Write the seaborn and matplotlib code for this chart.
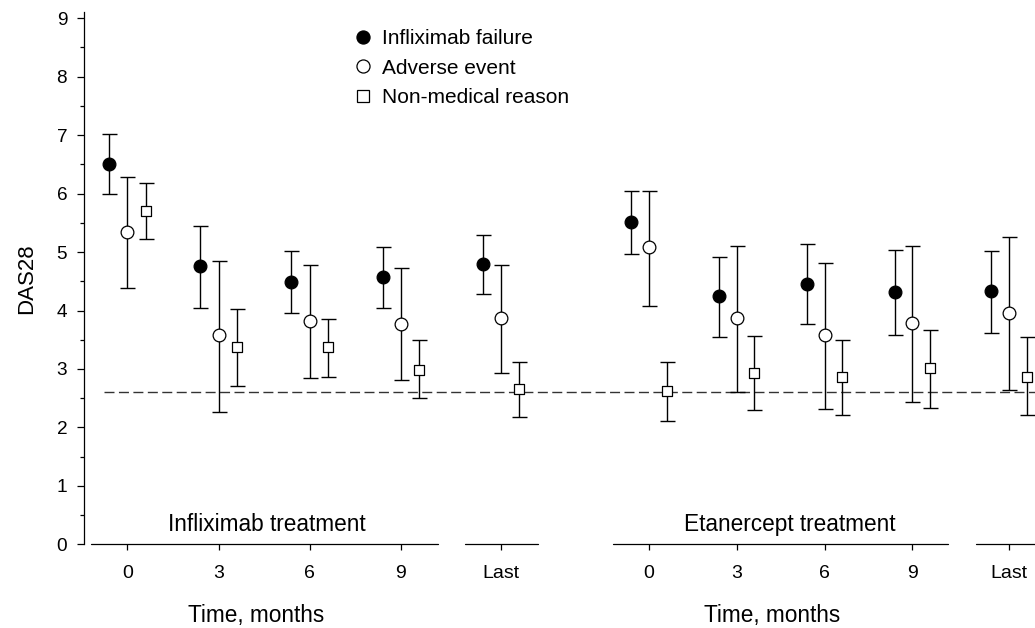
import numpy as np
import pandas as pd
import matplotlib
matplotlib.use("Agg")
import matplotlib.pyplot as plt
from matplotlib.lines import Line2D
import seaborn as sns

# ---------------- data ----------------
time_labels = ["0", "3", "6", "9", "Last"]
reasons = ["Infliximab failure", "Adverse event", "Non-medical reason"]
treatments = ["Infliximab treatment", "Etanercept treatment"]
threshold = 2.6

# Infliximab treatment
ifx_fail_mean = [6.51, 4.76, 4.49, 4.58, 4.80]
ifx_fail_lo = [5.99, 4.04, 3.96, 4.05, 4.28]
ifx_fail_hi = [7.02, 5.45, 5.01, 5.09, 5.29]
ifx_adv_mean = [5.35, 3.58, 3.82, 3.77, 3.87]
ifx_adv_lo = [4.39, 2.27, 2.85, 2.81, 2.93]
ifx_adv_hi = [6.29, 4.85, 4.77, 4.73, 4.78]
ifx_non_mean = [5.70, 3.38, 3.37, 2.99, 2.65]
ifx_non_lo = [5.22, 2.71, 2.87, 2.51, 2.17]
ifx_non_hi = [6.18, 4.03, 3.85, 3.49, 3.12]

# Etanercept treatment
eta_fail_mean = [5.51, 4.24, 4.46, 4.32, 4.33]
eta_fail_lo = [4.96, 3.54, 3.77, 3.58, 3.61]
eta_fail_hi = [6.05, 4.91, 5.14, 5.03, 5.02]
eta_adv_mean = [5.08, 3.87, 3.58, 3.78, 3.95]
eta_adv_lo = [4.08, 2.61, 2.31, 2.43, 2.64]
eta_adv_hi = [6.05, 5.11, 4.82, 5.10, 5.25]
eta_non_mean = [2.62, 2.93, 2.86, 3.01, 2.87]
eta_non_lo = [2.11, 2.29, 2.22, 2.33, 2.21]
eta_non_hi = [3.12, 3.56, 3.50, 3.67, 3.54]

series = {
    ("Infliximab treatment", "Infliximab failure"): (ifx_fail_mean, ifx_fail_lo, ifx_fail_hi),
    ("Infliximab treatment", "Adverse event"): (ifx_adv_mean, ifx_adv_lo, ifx_adv_hi),
    ("Infliximab treatment", "Non-medical reason"): (ifx_non_mean, ifx_non_lo, ifx_non_hi),
    ("Etanercept treatment", "Infliximab failure"): (eta_fail_mean, eta_fail_lo, eta_fail_hi),
    ("Etanercept treatment", "Adverse event"): (eta_adv_mean, eta_adv_lo, eta_adv_hi),
    ("Etanercept treatment", "Non-medical reason"): (eta_non_mean, eta_non_lo, eta_non_hi),
}

# ---------------- layout / style ----------------
time_pos = [0, 1, 2, 3, 4.1]
reason_offset = {"Infliximab failure": -0.2, "Adverse event": 0.0, "Non-medical reason": 0.2}
reason_marker = {"Infliximab failure": "o", "Adverse event": "o", "Non-medical reason": "s"}
reason_face = {"Infliximab failure": "black", "Adverse event": "white", "Non-medical reason": "white"}
reason_size = {"Infliximab failure": 84, "Adverse event": 84, "Non-medical reason": 58}

rows = []
for (treat, reason), (m, lo, hi) in series.items():
    for i, t in enumerate(time_labels):
        rows.append(dict(treatment=treat, reason=reason, time=t,
                         xpos=time_pos[i] + reason_offset[reason],
                         mean=m[i], lo=lo[i], hi=hi[i]))
df = pd.DataFrame(rows)

sns.set_theme(style="white")
plt.rcParams["font.family"] = ["Liberation Sans", "DejaVu Sans"]
plt.rcParams["text.color"] = "black"
plt.rcParams["axes.labelcolor"] = "black"
plt.rcParams["xtick.color"] = "black"
plt.rcParams["ytick.color"] = "black"

W, H = 1035, 628
fig = plt.figure(figsize=(W / 100, H / 100), dpi=100)
fig.patch.set_facecolor("white")

y0_px = 544.3
unit_px = 58.45
ymax = 9.1
bottom = (H - y0_px) / H
height = ymax * unit_px / H
xlo, xhi = -0.48, 4.6

panels = [
    dict(treat="Infliximab treatment", tick0=127.3, step=91.2,
         segs=[(-0.40, 3.41), (3.70, 4.50)], label_x=1.525, title_x=1.41, yaxis=True),
    dict(treat="Etanercept treatment", tick0=649.0, step=87.8,
         segs=[(-0.41, 3.41), (3.72, 5.5)], label_x=1.606, title_x=1.40, yaxis=False),
]

axes = []
for p in panels:
    left_px = p["tick0"] + xlo * p["step"]
    width_px = (xhi - xlo) * p["step"]
    ax = fig.add_axes([left_px / W, bottom, width_px / W, height])
    ax.set_xlim(xlo, xhi)
    ax.set_ylim(0, ymax)
    ax.patch.set_alpha(0)
    for s in ["top", "right", "bottom"]:
        ax.spines[s].set_visible(False)
    # segmented x axis
    for a, b in p["segs"]:
        ax.plot([a, b], [0, 0], color="black", lw=0.9, clip_on=False, zorder=2)
    ax.set_xticks(time_pos)
    ax.set_xticklabels(time_labels)
    ax.tick_params(axis="x", direction="out", length=4.3, width=0.9, pad=10.5,
                   labelsize=14, bottom=True)
    if p["yaxis"]:
        ax.spines["left"].set_visible(True)
        ax.spines["left"].set_color("black")
        ax.spines["left"].set_linewidth(0.9)
        ax.set_yticks(np.arange(0, 10, 1))
        ax.set_yticks(np.arange(0.5, 9.1, 1), minor=True)
        ax.tick_params(axis="y", which="major", direction="out", length=4.8, width=0.9,
                       pad=7.0, labelsize=13.7, left=True)
        ax.tick_params(axis="y", which="minor", direction="out", length=2.9, width=0.9,
                       left=True)
        ax.set_ylabel("DAS28", fontsize=16)
        ax.yaxis.set_label_coords(-0.101, 0.5)
    else:
        ax.spines["left"].set_visible(False)
        ax.set_yticks([])

    sub = df[df.treatment == p["treat"]]
    for reason in reasons:
        d = sub[sub.reason == reason]
        ax.errorbar(d.xpos, d["mean"], yerr=[d["mean"] - d.lo, d.hi - d["mean"]],
                    fmt="none", ecolor="black", elinewidth=1.0, capsize=5.4,
                    capthick=1.0, zorder=3)
        sns.scatterplot(data=d, x="xpos", y="mean", ax=ax, marker=reason_marker[reason],
                        s=reason_size[reason], color=reason_face[reason],
                        edgecolor="black", linewidth=0.9, zorder=4, legend=False)
    ax.set_xlabel("")
    if not p["yaxis"]:
        ax.set_ylabel("")
    ax.text(p["label_x"], 0.236, p["treat"], ha="center", va="baseline", fontsize=16.3)
    ax.text(p["title_x"], -1.324, "Time, months", ha="center", va="baseline", fontsize=16.3)
    axes.append(ax)

# reference line (continuous across both panels)
axes[0].plot([-0.26, 12], [threshold, threshold], color="#333333", lw=1.0,
             ls=(0, (7.2, 3.2)), clip_on=False, zorder=1)

handles = [
    Line2D([], [], ls="none", marker="o", ms=9.4, mfc="black", mec="black", mew=0.9),
    Line2D([], [], ls="none", marker="o", ms=9.4, mfc="white", mec="black", mew=0.9),
    Line2D([], [], ls="none", marker="s", ms=9.0, mfc="white", mec="black", mew=0.9),
]
fig.legend(handles, reasons, loc="upper left", bbox_to_anchor=(352.6 / W, 1 - 29 / H),
           frameon=False, fontsize=15, handlelength=1.0, handletextpad=0.41,
           labelspacing=0.51, borderpad=0, borderaxespad=0)

fig.savefig("out.png", dpi=100, facecolor="white")
